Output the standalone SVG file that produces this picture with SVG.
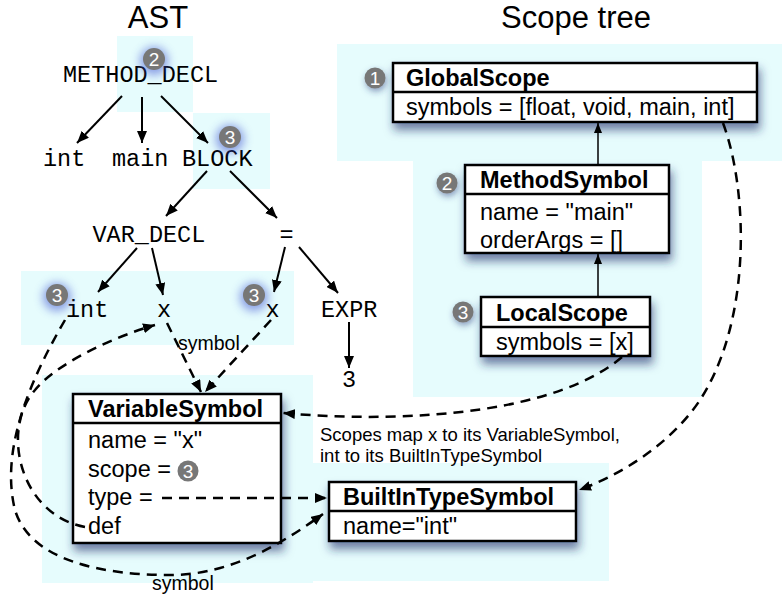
<svg xmlns="http://www.w3.org/2000/svg" width="782" height="599" viewBox="0 0 782 599">
<style>
.bg{fill:#e6fcfd}
.title{font-family:"Liberation Sans",Arial,sans-serif;font-size:31px;fill:#000}
.ast{font-family:"Liberation Mono","Courier New",monospace;font-size:23.5px;fill:#000}
.bt{font-family:"Liberation Sans",Arial,sans-serif;font-size:23.5px;font-weight:bold;fill:#000}
.bb{font-family:"Liberation Sans",Arial,sans-serif;font-size:23.5px;fill:#000}
.note{font-family:"Liberation Sans",Arial,sans-serif;font-size:18.5px;fill:#000}
.lbl{font-family:"Liberation Sans",Arial,sans-serif;font-size:19.5px;fill:#000}
.box{fill:#fff;stroke:#000;stroke-width:2.5}
.div{stroke:#000;stroke-width:2.5}
.tree{stroke:#000;stroke-width:2;fill:none}
.up{stroke:#000;stroke-width:1.5;fill:none}
.dash{stroke:#000;stroke-width:2.5;fill:none;stroke-dasharray:10 7}
.bdg{fill:#777}
.bnum{font-family:"Liberation Sans",Arial,sans-serif;font-size:19px;fill:#fff;text-anchor:middle}
.glow{fill:#3a4fd0;opacity:0.55}
</style>
<defs>
<marker id="ah" viewBox="0 0 12 10" refX="12" refY="5" markerWidth="12" markerHeight="10" markerUnits="userSpaceOnUse" orient="auto">
<path d="M0,0 L12,5 L0,10 z" fill="#000"/>
</marker>
<marker id="ahs" viewBox="0 0 10 8" refX="10" refY="4" markerWidth="10" markerHeight="8" markerUnits="userSpaceOnUse" orient="auto">
<path d="M0,0 L10,4 L0,8 z" fill="#000"/>
</marker>
<filter id="sh" x="-20%" y="-30%" width="140%" height="170%">
<feDropShadow dx="2" dy="7" stdDeviation="5" flood-color="#1f2f6a" flood-opacity="0.6"/>
</filter>
<filter id="bsh" x="-60%" y="-60%" width="220%" height="220%">
<feDropShadow dx="1" dy="3" stdDeviation="3" flood-color="#2a3a80" flood-opacity="0.5"/>
</filter>
<filter id="blur" x="-100%" y="-100%" width="300%" height="300%">
<feGaussianBlur stdDeviation="5"/>
</filter>
</defs>

<g id="backgrounds">
<rect class="bg" x="117" y="36" width="76" height="76"/>
<rect class="bg" x="193" y="113" width="77" height="76"/>
<rect class="bg" x="21" y="271" width="273" height="74"/>
<rect class="bg" x="42" y="375" width="271" height="208"/>
<rect class="bg" x="313" y="463" width="296" height="118"/>
<rect class="bg" x="337" y="44" width="445" height="117"/>
<rect class="bg" x="413" y="160" width="289" height="237"/>
</g>

<g id="titles">
<text class="title" x="158" y="28" text-anchor="middle">AST</text>
<text class="title" x="576" y="28" text-anchor="middle">Scope tree</text>
</g>

<g id="ast-method-decl">
<text class="ast" x="63" y="82">METHOD_DECL</text>
<circle class="glow" cx="154" cy="61" r="14" filter="url(#blur)"/>
<circle class="bdg" cx="154" cy="59" r="11"/>
<text class="bnum" x="154" y="66">2</text>
</g>
<g id="ast-int"><text class="ast" x="43" y="166">int</text></g>
<g id="ast-main"><text class="ast" x="112" y="166">main</text></g>
<g id="ast-block">
<text class="ast" x="182" y="166">BLOCK</text>
<circle class="glow" cx="230" cy="139" r="14" filter="url(#blur)"/>
<circle class="bdg" cx="230" cy="137" r="11"/>
<text class="bnum" x="230" y="144">3</text>
</g>
<g id="ast-var-decl"><text class="ast" x="92.5" y="242">VAR_DECL</text></g>
<g id="ast-assign"><text class="ast" x="286.5" y="242" text-anchor="middle">=</text></g>
<g id="ast-int2">
<text class="ast" x="66" y="317">int</text>
<circle class="glow" cx="57" cy="297" r="14" filter="url(#blur)"/>
<circle class="bdg" cx="57" cy="295" r="11"/>
<text class="bnum" x="57" y="302">3</text>
</g>
<g id="ast-x1"><text class="ast" x="164" y="317" text-anchor="middle">x</text></g>
<g id="ast-x2">
<text class="ast" x="272.5" y="317" text-anchor="middle">x</text>
<circle class="glow" cx="254" cy="297" r="14" filter="url(#blur)"/>
<circle class="bdg" cx="254" cy="295" r="11"/>
<text class="bnum" x="254" y="302">3</text>
</g>
<g id="ast-expr"><text class="ast" x="321" y="317">EXPR</text></g>
<g id="ast-3"><text class="ast" x="349" y="387" text-anchor="middle">3</text></g>

<g id="global-scope">
<rect class="box" x="393" y="63" width="364" height="59" filter="url(#sh)"/>
<line class="div" x1="393" y1="92" x2="757" y2="92"/>
<text class="bt" x="406" y="86">GlobalScope</text>
<text class="bb" x="406" y="115">symbols = [float, void, main, int]</text>
<circle class="bdg" cx="375" cy="78" r="10.5" filter="url(#bsh)"/>
<text class="bnum" x="375" y="85">1</text>
</g>

<g id="method-symbol">
<rect class="box" x="465" y="165" width="204" height="88" filter="url(#sh)"/>
<line class="div" x1="465" y1="194" x2="669" y2="194"/>
<text class="bt" x="480" y="188">MethodSymbol</text>
<text class="bb" x="480" y="220">name = "main"</text>
<text class="bb" x="480" y="248">orderArgs = []</text>
<circle class="bdg" cx="447" cy="183" r="10.5" filter="url(#bsh)"/>
<text class="bnum" x="447" y="190">2</text>
</g>

<g id="local-scope">
<rect class="box" x="481" y="297" width="169" height="59" filter="url(#sh)"/>
<line class="div" x1="481" y1="327" x2="650" y2="327"/>
<text class="bt" x="496" y="321">LocalScope</text>
<text class="bb" x="496" y="350">symbols = [x]</text>
<circle class="bdg" cx="463" cy="312" r="10.5" filter="url(#bsh)"/>
<text class="bnum" x="463" y="319">3</text>
</g>

<g id="variable-symbol">
<rect class="box" x="73" y="394" width="208" height="149" filter="url(#sh)"/>
<line class="div" x1="73" y1="423" x2="281" y2="423"/>
<text class="bt" x="88" y="417">VariableSymbol</text>
<text class="bb" x="88" y="448">name = "x"</text>
<text class="bb" x="88" y="477">scope = </text>
<circle class="bdg" cx="188" cy="471" r="10.5"/>
<text class="bnum" x="188" y="478">3</text>
<text class="bb" x="88" y="505">type =</text>
<text class="bb" x="88" y="534">def</text>
</g>

<g id="builtin-type-symbol">
<rect class="box" x="329" y="482" width="247" height="59" filter="url(#sh)"/>
<line class="div" x1="329" y1="511" x2="576" y2="511"/>
<text class="bt" x="343" y="505">BuiltInTypeSymbol</text>
<text class="bb" x="343" y="534">name="int"</text>
</g>

<g id="connectors">
<line class="tree" x1="122" y1="96" x2="77" y2="143" marker-end="url(#ah)"/>
<line class="tree" x1="142" y1="97" x2="142" y2="143" marker-end="url(#ah)"/>
<line class="tree" x1="161" y1="96" x2="208" y2="143" marker-end="url(#ah)"/>
<line class="tree" x1="207" y1="171" x2="166" y2="216" marker-end="url(#ah)"/>
<line class="tree" x1="230" y1="171" x2="277" y2="218" marker-end="url(#ah)"/>
<line class="tree" x1="137" y1="248" x2="98" y2="292" marker-end="url(#ah)"/>
<line class="tree" x1="152" y1="248" x2="163" y2="295" marker-end="url(#ah)"/>
<line class="tree" x1="285" y1="247" x2="274" y2="292" marker-end="url(#ah)"/>
<line class="tree" x1="299" y1="247" x2="338" y2="293" marker-end="url(#ah)"/>
<line class="tree" x1="349" y1="322" x2="349" y2="368" marker-end="url(#ah)"/>
<line class="up" x1="598" y1="165" x2="598" y2="123" marker-end="url(#ahs)"/>
<line class="up" x1="598" y1="297" x2="598" y2="254" marker-end="url(#ahs)"/>
<path class="dash" d="M167,323 L201,392" marker-end="url(#ah)"/>
<path class="dash" d="M271,320 L205,392" marker-end="url(#ah)"/>
<path class="dash" d="M85,527 C20,515 0,430 35,390 C55,365 110,338 155,325" marker-end="url(#ah)"/>
<path class="dash" d="M65,320 C30,380 0,450 15,510 C30,560 100,575 170,575 C230,575 280,545 323,514" marker-end="url(#ah)"/>
<path class="dash" d="M162,498 L327,498" marker-end="url(#ah)"/>
<path class="dash" d="M622,357 C560,410 420,425 283,413" marker-end="url(#ah)"/>
<path class="dash" d="M723,123 C748,190 752,320 700,400 C670,445 620,475 579,490" marker-end="url(#ah)"/>
<text class="lbl" x="178" y="350">symbol</text>
<text class="lbl" x="152" y="590">symbol</text>
<text class="note" x="320" y="441">Scopes map x to its VariableSymbol,</text>
<text class="note" x="320" y="462">int to its BuiltInTypeSymbol</text>
</g>
</svg>
